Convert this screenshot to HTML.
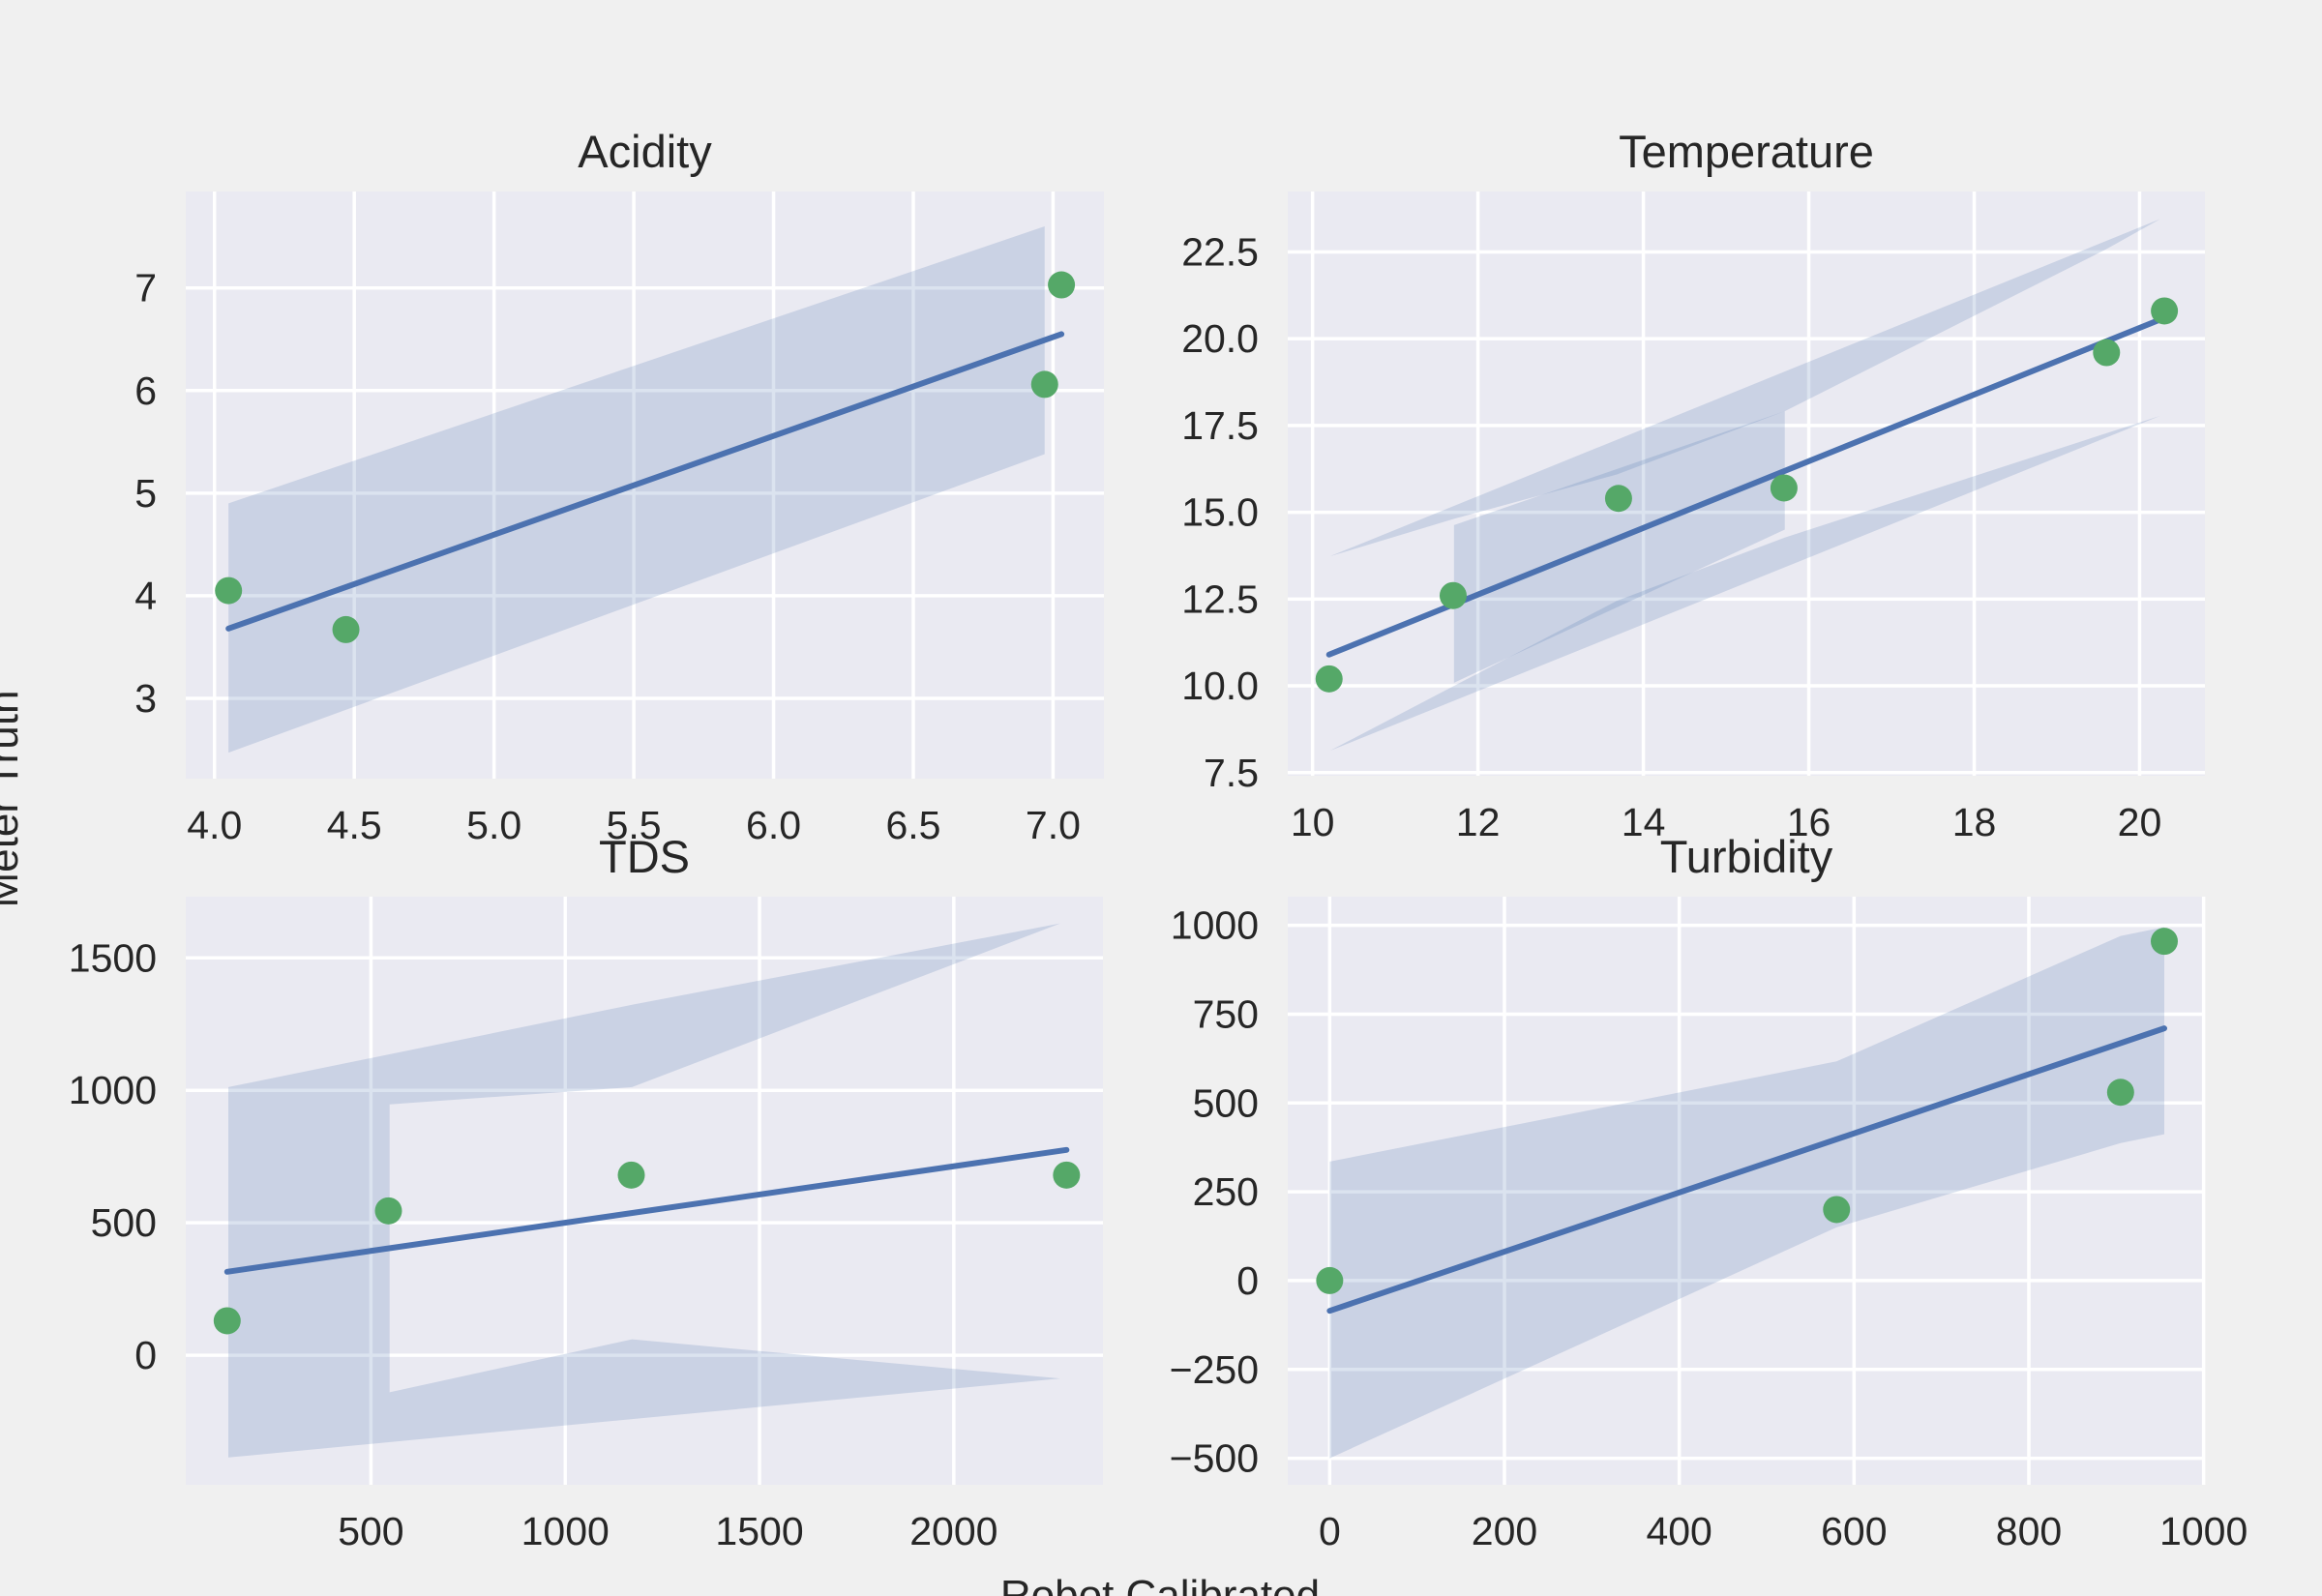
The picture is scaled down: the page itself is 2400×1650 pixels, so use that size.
<!DOCTYPE html>
<html><head><meta charset="utf-8"><style>
html,body{margin:0;padding:0;background:#f0f0f0;}
svg{display:block;font-family:"Liberation Sans",Arial,sans-serif;}
</style></head><body>
<svg id="fig" width="2400" height="1650" viewBox="0 0 2400 1650" xmlns="http://www.w3.org/2000/svg">
<rect width="2400" height="1650" fill="#f0f0f0"/>
<text x="1199" y="1664" font-size="44" text-anchor="middle" fill="#262626">Robot Calibrated</text>
<text transform="translate(18,826) rotate(-90)" font-size="44" text-anchor="middle" fill="#262626">Meter Truth</text>
</svg>
<script>
// ---- Acidity ----
const acidX=[4.05,4.47,6.97,7.03];
const acidY=[4.05,3.67,6.06,7.03];
const acidLine=[[4.05,3.68],[7.03,6.55]];
const acidBand=[[[4.05,4.9],[6.97,7.6],[6.97,5.38],[4.05,2.47]]];
const acidXTicks=[4.0,4.5,5.0,5.5,6.0,6.5,7.0];
const acidYTicks=[3,4,5,6,7];
// ---- Temperature ----
const tempX=[10.2,11.7,13.7,15.7,19.6,20.3];
const tempY=[10.2,12.6,15.4,15.7,19.6,20.8];
const tempLine=[[10.2,10.9],[20.3,20.6]];
const tempBand=[
 [[10.21,13.73],[20.25,23.45],[19.59,22.57],[15.71,17.91],[13.68,16.09],[11.71,14.81]],
 [[11.71,14.63],[15.71,17.91],[15.71,14.5],[11.71,10.09]],
 [[10.21,8.13],[13.68,12.45],[15.71,14.27],[20.25,17.78]]
];
const tempXTicks=[10,12,14,16,18,20];
const tempYTicks=[7.5,10.0,12.5,15.0,17.5,20.0,22.5];
// ---- TDS ----
const tdsX=[130,545,1170,2290];
const tdsY=[130,545,680,680];
const tdsLine=[[130,315],[2290,775]];
const tdsBand=[[[133,1012],[1172,1323],[2274,1630],[1172,1012],[548,947],[548,-140],[1172,60],[2274,-88],[1172,-241],[133,-386]]];
const tdsXTicks=[500,1000,1500,2000];
const tdsYTicks=[0,500,1000,1500];
// ---- Turbidity ----
const turbX=[0,580,905,955];
const turbY=[0,200,530,955];
const turbLine=[[0,-85],[955,710]];
const turbBand=[[[0,335],[580,617],[905,970],[955,995],[955,412],[905,387],[580,150],[0,-500]]];
const turbXTicks=[0,200,400,600,800,1000];
const turbYTicks=[-500,-250,0,250,500,750,1000];

const NS="http://www.w3.org/2000/svg";
const fig=document.getElementById('fig');
function mk(tag,attrs,parent){const e=document.createElementNS(NS,tag);for(const k in attrs)e.setAttribute(k,attrs[k]);(parent||fig).appendChild(e);return e;}
function fmt(v,dec){return (v<0?'\u2212':'')+Math.abs(v).toFixed(dec);}

function panel(id,title,box,dom,X,Y,line,band,xt,yt,dec){
  const [L,T,R,B]=box,[x0,x1,y0,y1]=dom;
  const sx=v=>L+(v-x0)/(x1-x0)*(R-L);
  const sy=v=>B-(v-y0)/(y1-y0)*(B-T);
  const g=mk('g',{});
  
  
  const cp=mk('clipPath',{id:'cp-'+id},g);mk('rect',{x:L,y:T,width:R-L,height:B-T},cp);
  const bg=mk('rect',{x:L,y:T,width:R-L,height:B-T,fill:'#eaeaf2'},g);
  
  
  xt.forEach(v=>{const l=mk('line',{x1:sx(v),x2:sx(v),y1:T,y2:B,stroke:'#fff','stroke-width':3.5},g);
    
    
    const t=mk('text',{x:sx(v),y:B+62,'font-size':41,'text-anchor':'middle',fill:'#262626'},g);t.textContent=fmt(v,dec[0]);
    
    });
  yt.forEach(v=>{const l=mk('line',{x1:L,x2:R,y1:sy(v),y2:sy(v),stroke:'#fff','stroke-width':3.5},g);
    
    
    const t=mk('text',{x:L-30,y:sy(v)+14,'font-size':41,'text-anchor':'end',fill:'#262626'},g);t.textContent=fmt(v,dec[1]);
    
    });
  const bg2=mk('g',{'clip-path':'url(#cp-'+id+')'},g);
  band.forEach(poly=>{const p=mk('polygon',{points:poly.map(q=>sx(q[0])+','+sy(q[1])).join(' '),fill:'#4c72b0','fill-opacity':0.2},bg2);
    
    });
  const ln=mk('line',{x1:sx(line[0][0]),y1:sy(line[0][1]),x2:sx(line[1][0]),y2:sy(line[1][1]),stroke:'#4c72b0','stroke-width':6,'stroke-linecap':'round'},bg2);
  
  
  X.forEach((v,i)=>{const c=mk('circle',{cx:sx(v),cy:sy(Y[i]),r:14,fill:'#55a868'},bg2);
    
    });
  const tt=mk('text',{x:(L+R)/2,y:T-25,'font-size':47,'text-anchor':'middle',fill:'#262626'},g);tt.textContent=title;
  
  
}
panel('acidity','Acidity',[192,198,1141,805],[3.897,7.182,2.217,7.94],acidX,acidY,acidLine,acidBand,acidXTicks,acidYTicks,[1,0]);
panel('temperature','Temperature',[1331,198,2279,802],[9.70,20.79,7.41,24.24],tempX,tempY,tempLine,tempBand,tempXTicks,tempYTicks,[0,1]);
panel('tds','TDS',[192,927,1140,1535],[23.4,2383.8,-489,1731],tdsX,tdsY,tdsLine,tdsBand,tdsXTicks,tdsYTicks,[0,0]);
panel('turbidity','Turbidity',[1331,927,2279,1535],[-48,1001.5,-574.6,1080.6],turbX,turbY,turbLine,turbBand,turbXTicks,turbYTicks,[0,0]);
</script>
</body></html>
